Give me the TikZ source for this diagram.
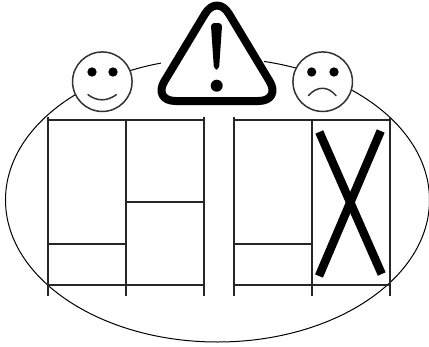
\documentclass[tikz,border=0pt]{standalone}
\begin{document}
\begin{tikzpicture}[x=1pt,y=-1pt,
  grid/.style={line width=2.300pt,draw=black!85},
  face/.style={draw=black!80,line width=1.500pt,fill=white,circle,minimum size=59.500pt,inner sep=0pt},
  eye/.style={fill=black,circle,inner sep=0pt,minimum size=9.300pt},
  mouth/.style={draw=black!80,line width=1.500pt,line cap=round},
  bar/.style={line width=8.500pt,draw=black}]
\useasboundingbox (0,0) rectangle (429,346);
\coordinate (ec) at (217.500,200);
\draw[line width=1pt] (ec) ellipse [x radius=212,y radius=142];
% mask of the warning sign
\fill[white] (161,40) rectangle (264,104);
% grid left
\draw[grid] (48,116.500) -- (48,296);
\draw[grid] (126,121) -- (126,296);
\draw[grid] (204,116.500) -- (204,296);
\draw[grid] (48,119.700) -- (204,119.700);
\draw[grid] (48,285) -- (204,285);
\draw[grid] (48,243.700) -- (126,243.700);
\draw[grid] (126,202.300) -- (204,202.300);
% grid right
\draw[grid] (234,116.500) -- (234,296);
\draw[grid] (312,121) -- (312,296);
\draw[grid] (390,116.500) -- (390,296);
\draw[grid] (234,119.700) -- (390,119.700);
\draw[grid] (234,285) -- (390,285);
\draw[grid] (234,243.700) -- (312,243.700);
% cross
\draw[bar] (319.300,132) -- (381.700,274);
\draw[bar] (380.700,131) -- (319,276);
% happy face
\node[face] (happy) at (102.300,81.700) {};
\node[eye] (h1) at (92,72) {};
\node[eye] (h2) at (113,72) {};
\draw[mouth] (88,94.700) .. controls (97,101.500) and (107,101.500) .. (116.300,94.700);
% sad face
\node[face] (sad) at (322.700,81.700) {};
\node[eye] (s1) at (311.700,72) {};
\node[eye] (s2) at (334,72) {};
\draw[mouth] (308.300,95.700) .. controls (317,85.800) and (328,85.800) .. (336,95.700);
% warning sign
\draw[line width=8pt,line join=round,rounded corners=23pt,fill=white]
  (217,-6) -- (281.500,101) -- (152.500,101) -- cycle;
\fill[rounded corners=3.500pt] (210.800,23) -- (222.200,23) -- (219,69.500) -- (214,69.500) -- cycle;
\node[fill=black,circle,inner sep=0pt,minimum size=12pt] (dot) at (216.700,85.700) {};
\end{tikzpicture}
\end{document}
